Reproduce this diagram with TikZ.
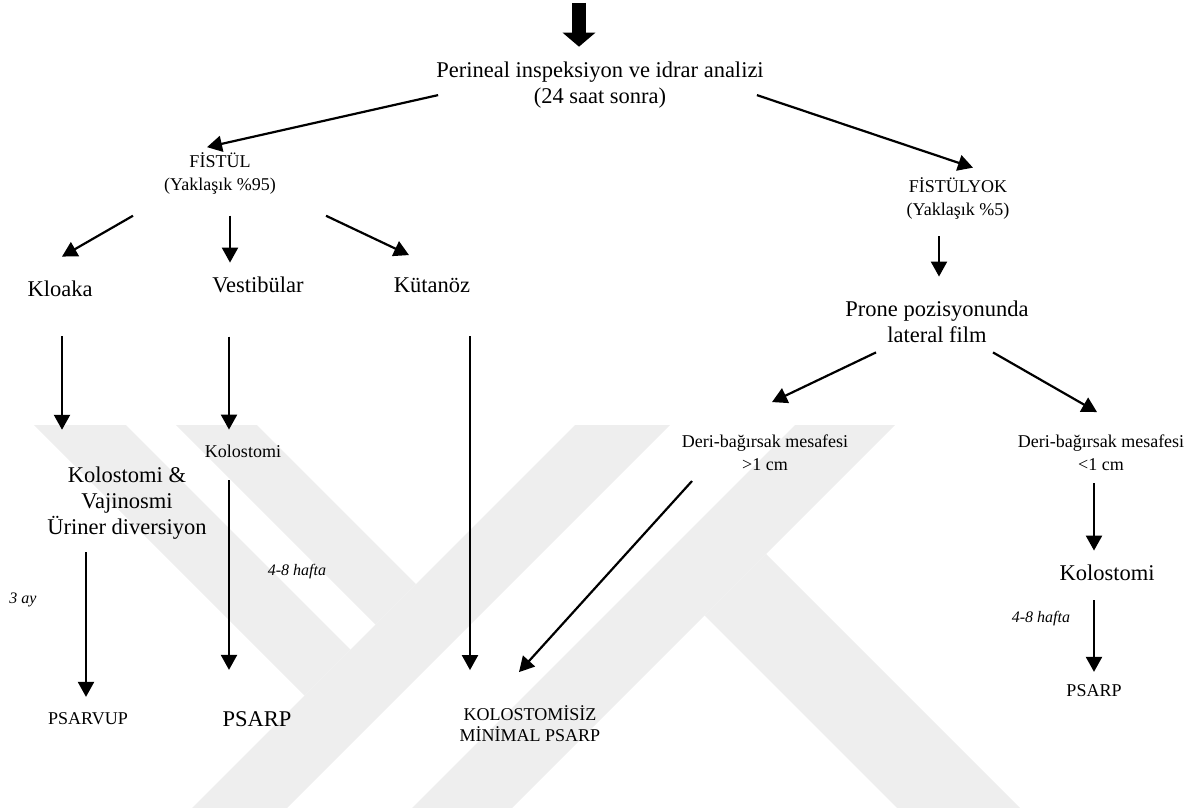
\documentclass[tikz,border=0pt]{standalone}
\usepackage{fontspec}
\setmainfont{Liberation Serif}
\usepackage{tikz}
\usetikzlibrary{arrows.meta}
\definecolor{MarkGray}{HTML}{EEEEEE}

\begin{document}
\begin{tikzpicture}[x=1pt,y=-1pt,
    big/.style={font=\fontsize{22.5}{26}\selectfont,inner sep=0pt,align=center},
    small/.style={font=\fontsize{18}{23}\selectfont,inner sep=0pt,align=center},
    note/.style={font=\fontsize{16}{19}\selectfont\itshape,inner sep=0pt,anchor=base},
    arr/.style={-{Triangle[length=15pt,width=16pt]},line width=2.2pt},
    bigarr/.style={-{Triangle[length=14pt,width=32pt]},line width=14pt}]
    \useasboundingbox (0,0) rectangle (1202,808);
    % faint watermark bands
    \fill[MarkGray] (575,425) -- (670,425) -- (287,808) -- (192,808) -- cycle;
    \fill[MarkGray] (34,425) -- (126,425) -- (350.5,649.5) -- (304.5,695.5) -- cycle;
    \fill[MarkGray] (176,425) -- (257,425) -- (416,584) -- (375.5,624.5) -- cycle;
    \fill[MarkGray] (795,425) -- (895,425) -- (512,808) -- (412,808) -- cycle;
    \fill[MarkGray] (766,554) -- (1020,808) -- (897,808) -- (704.5,615.5) -- cycle;
    % text blocks
    \node[big] (per) at (600,84.7) {Perineal inspeksiyon ve idrar analizi\\(24 saat sonra)};
    \node[small] (fis) at (220,173.7) {FİSTÜL\\(Yaklaşık \%95)};
    \node[small] (fisyok) at (958,198.2) {FİSTÜLYOK\\(Yaklaşık \%5)};
    \node[big,anchor=base] (kloaka) at (60,296) {Kloaka};
    \node[big,anchor=base] (vest) at (258,292) {Vestibülar};
    \node[big,anchor=base] (kutan) at (432,292) {Kütanöz};
    \node[big] (prone) at (937,322.3) {Prone pozisyonunda\\lateral film};
    \node[small,anchor=base] (kol1) at (243,457) {Kolostomi};
    \node[big] (kolvaj) at (127,502.8) {Kolostomi \&\\Vajinosmi\\Üriner diversiyon};
    \node[small] (deri1) at (765,452.9) {Deri-bağırsak mesafesi\\>1 cm};
    \node[small] (deri2) at (1101,452.9) {Deri-bağırsak mesafesi\\<1 cm};
    \node[big,anchor=base] (kol2) at (1107,580) {Kolostomi};
    \node[small,anchor=base] (psarvup) at (88,724) {PSARVUP};
    \node[big,anchor=base] (psarp1) at (257,726) {PSARP};
    \node[small,font=\fontsize{18}{21}\selectfont] (minimal) at (530,723.8) {KOLOSTOMİSİZ\\MİNİMAL PSARP};
    \node[small,anchor=base] (psarp2) at (1094,696) {PSARP};
    \node[note] (ay) at (23,603) {3 ay};
    \node[note] (hafta1) at (297,575) {4-8 hafta};
    \node[note] (hafta2) at (1041,622) {4-8 hafta};
    % arrows
    \coordinate (giris) at (579,3);
    \draw[bigarr,shorten >=14.6pt] (giris) -- (giris |- per.north);
    \draw[arr] ([xshift=2pt,yshift=13pt]per.south west) -- ([xshift=-13pt,yshift=5.5pt]fis.north);
    \draw[arr] ([xshift=-7pt,yshift=13pt]per.south east) -- ([xshift=15pt,yshift=9.5pt]fisyok.north);
    \draw[arr] ([xshift=-87pt,yshift=-21pt]fis.south) -- ([xshift=2pt,yshift=23.6pt]kloaka.north);
    \draw[arr] ([xshift=10pt,yshift=-21pt]fis.south) -- ([xshift=-28pt,yshift=13.6pt]vest.north);
    \draw[arr] ([xshift=106pt,yshift=-21pt]fis.south) -- ([xshift=-23pt,yshift=22pt]kutan.north);
    \draw[arr] ([xshift=-19pt,yshift=-17pt]fisyok.south) -- ([xshift=2pt,yshift=24.6pt]prone.north);
    \draw[arr] ([xshift=2pt,yshift=-40pt]kloaka.south) -- ([xshift=-65pt,yshift=36.6pt]kolvaj.north);
    \draw[arr] ([xshift=-29pt,yshift=-44pt]vest.south) -- ([xshift=-14pt,yshift=14.7pt]kol1.north);
    \draw[arr] ([xshift=38pt,yshift=-44pt]kutan.south) -- ([xshift=-60pt,yshift=35.5pt]minimal.north);
    \draw[arr] ([xshift=-61pt,yshift=-9pt]prone.south) -- ([xshift=7pt,yshift=32.7pt]deri1.north);
    \draw[arr] ([xshift=56pt,yshift=-9pt]prone.south) -- ([xshift=-4pt,yshift=22.7pt]deri2.north);
    \draw[arr] ([xshift=-73pt,yshift=-10pt]deri1.south) -- ([xshift=-11pt,yshift=33.5pt]minimal.north);
    \draw[arr] ([xshift=-7pt,yshift=-12pt]deri2.south) -- ([xshift=-13pt,yshift=13.6pt]kol2.north);
    \draw[arr] ([xshift=-13pt,yshift=-20pt]kol2.south) -- ([yshift=12pt]psarp2.north);
    \draw[arr] ([xshift=-41pt,yshift=-13pt]kolvaj.south) -- ([xshift=-2pt,yshift=15pt]psarvup.north);
    \draw[arr] ([xshift=-14pt,yshift=-23pt]kol1.south) -- ([xshift=-28pt,yshift=41pt]psarp1.north);
\end{tikzpicture}
\end{document}
